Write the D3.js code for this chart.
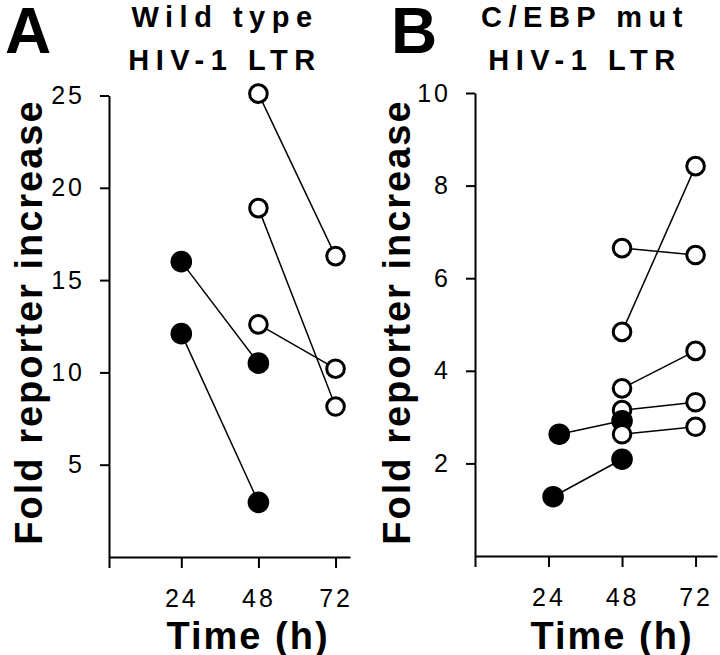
<html>
<head>
<script src="https://cdn.jsdelivr.net/npm/d3@7"></script>
<style>
  body { margin: 0; background: #fff; }
  svg { font-family: "Liberation Sans", Arial, sans-serif; }
</style>
</head>
<body>
<svg id="chart" width="720" height="655"></svg>
<script>
// ---- data ----
var timeTicks = [24, 48, 72];

// panel A, wild type LTR
var aTicks = [5, 10, 15, 20, 25];
var aFilledStart = [16.0, 12.1];     // 24 h
var aFilledEnd = [10.5, 2.96];       // 48 h
var aOpenStart = [25.1, 18.9, 12.6]; // 48 h
var aOpenEnd = [16.3, 8.15, 10.2];   // 72 h

// panel B, C/EBP mutant LTR
var bTicks = [2, 4, 6, 8, 10];
var bFilledTime = [25.5, 27.5];      // dots sit just right of 24 h
var bFilledStart = [1.28, 2.63];
var bFilledEnd = [2.09, 2.92];       // 48 h
var bOpenStart = [6.65, 4.84, 3.62, 3.15, 2.63]; // 48 h
var bOpenEnd = [6.5, 8.42, 4.43, 3.32, 2.79];    // 72 h

var svg = d3.select('#chart');

function pairs(t0, starts, t1, ends, filled){
  return starts.map(function(v, i){
    var s = Array.isArray(t0) ? t0[i] : t0;
    return {t0: s, v0: v, t1: t1, v1: ends[i], filled: filled};
  });
}

function panel(opt){
  var g = svg.append('g');
  var x = d3.scaleLinear().domain(opt.xDomain).range(opt.xRange);
  var y = d3.scaleLinear().domain([0, opt.yMax]).range(opt.yRange);

  // y axis
  var yAxis = d3.axisLeft(y).tickValues(opt.yTicks).tickSize(9).tickSizeOuter(0).tickPadding(15);
  var ya = g.append('g').attr('transform', 'translate(' + opt.xRange[0] + ',0)').call(yAxis);

  // x axis, with a tick at its left end
  var xAxis = d3.axisBottom(x).tickValues([opt.xDomain[0]].concat(timeTicks))
    .tickFormat(function(d){ return d === opt.xDomain[0] ? '' : d; })
    .tickSize(11).tickSizeOuter(0).tickPadding(21);
  var xa = g.append('g').attr('transform', 'translate(0,' + opt.yRange[0] + ')').call(xAxis);

  [ya, xa].forEach(function(a){
    a.select('.domain').attr('stroke-width', 2);
    a.selectAll('.tick line').attr('stroke-width', 2);
    a.selectAll('.tick text').attr('font-size', 25).attr('letter-spacing', 3).attr('fill', '#000');
  });

  var segs = pairs(opt.fTime, opt.fStart, 48, opt.fEnd, true)
    .concat(pairs(48, opt.oStart, 72, opt.oEnd, false));

  g.selectAll('.cord').data(segs).enter().append('line')
    .attr('class', 'cord')
    .attr('x1', function(d){ return x(d.t0); })
    .attr('y1', function(d){ return y(d.v0); })
    .attr('x2', function(d){ return x(d.t1); })
    .attr('y2', function(d){ return y(d.v1); })
    .attr('stroke', '#000')
    .attr('stroke-width', 1.5);

  var dots = [];
  segs.forEach(function(d){
    dots.push({t: d.t0, v: d.v0, filled: d.filled});
    dots.push({t: d.t1, v: d.v1, filled: d.filled});
  });
  dots.sort(function(a, b){ return b.v - a.v; });

  g.selectAll('.dot').data(dots).enter().append('circle')
    .attr('class', 'dot')
    .attr('cx', function(d){ return x(d.t); })
    .attr('cy', function(d){ return y(d.v); })
    .attr('r', function(d){ return d.filled ? 10.8 : 8.8; })
    .attr('fill', function(d){ return d.filled ? '#000' : '#fff'; })
    .attr('stroke', '#000')
    .attr('stroke-width', function(d){ return d.filled ? 0 : 3; });

  // labels
  g.append('text').attr('x', opt.letterX).attr('y', 53)
    .attr('font-size', 64).attr('font-weight', 'bold').text(opt.letter);
  opt.title.forEach(function(t, i){
    g.append('text').attr('x', opt.titleX).attr('y', 27 + i * 43)
      .attr('text-anchor', 'middle').attr('font-size', 29).attr('font-weight', 'bold')
      .attr('letter-spacing', 6.5).text(t);
  });
  g.append('text').attr('x', opt.timeX).attr('y', 649)
    .attr('text-anchor', 'middle').attr('font-size', 38).attr('font-weight', 'bold')
    .attr('letter-spacing', 2).text('Time (h)');
  g.append('text').attr('transform', 'translate(' + opt.labelX + ',322) rotate(-90)')
    .attr('text-anchor', 'middle').attr('font-size', 38).attr('font-weight', 'bold')
    .attr('letter-spacing', 2).text('Fold reporter increase');
}

panel({
  xDomain: [1.5, 76.5], xRange: [109, 350],
  yMax: 25, yRange: [557, 95.5], yTicks: aTicks,
  fTime: 24, fStart: aFilledStart, fEnd: aFilledEnd,
  oStart: aOpenStart, oEnd: aOpenEnd,
  letter: 'A', letterX: 5, title: ['Wild type', 'HIV-1 LTR'], titleX: 225,
  timeX: 248, labelX: 42
});

panel({
  xDomain: [0, 79], xRange: [475, 717],
  yMax: 10, yRange: [556, 93], yTicks: bTicks,
  fTime: bFilledTime, fStart: bFilledStart, fEnd: bFilledEnd,
  oStart: bOpenStart, oEnd: bOpenEnd,
  letter: 'B', letterX: 391, title: ['C/EBP mut', 'HIV-1 LTR'], titleX: 585,
  timeX: 612, labelX: 410
});
</script>
</body>
</html>
